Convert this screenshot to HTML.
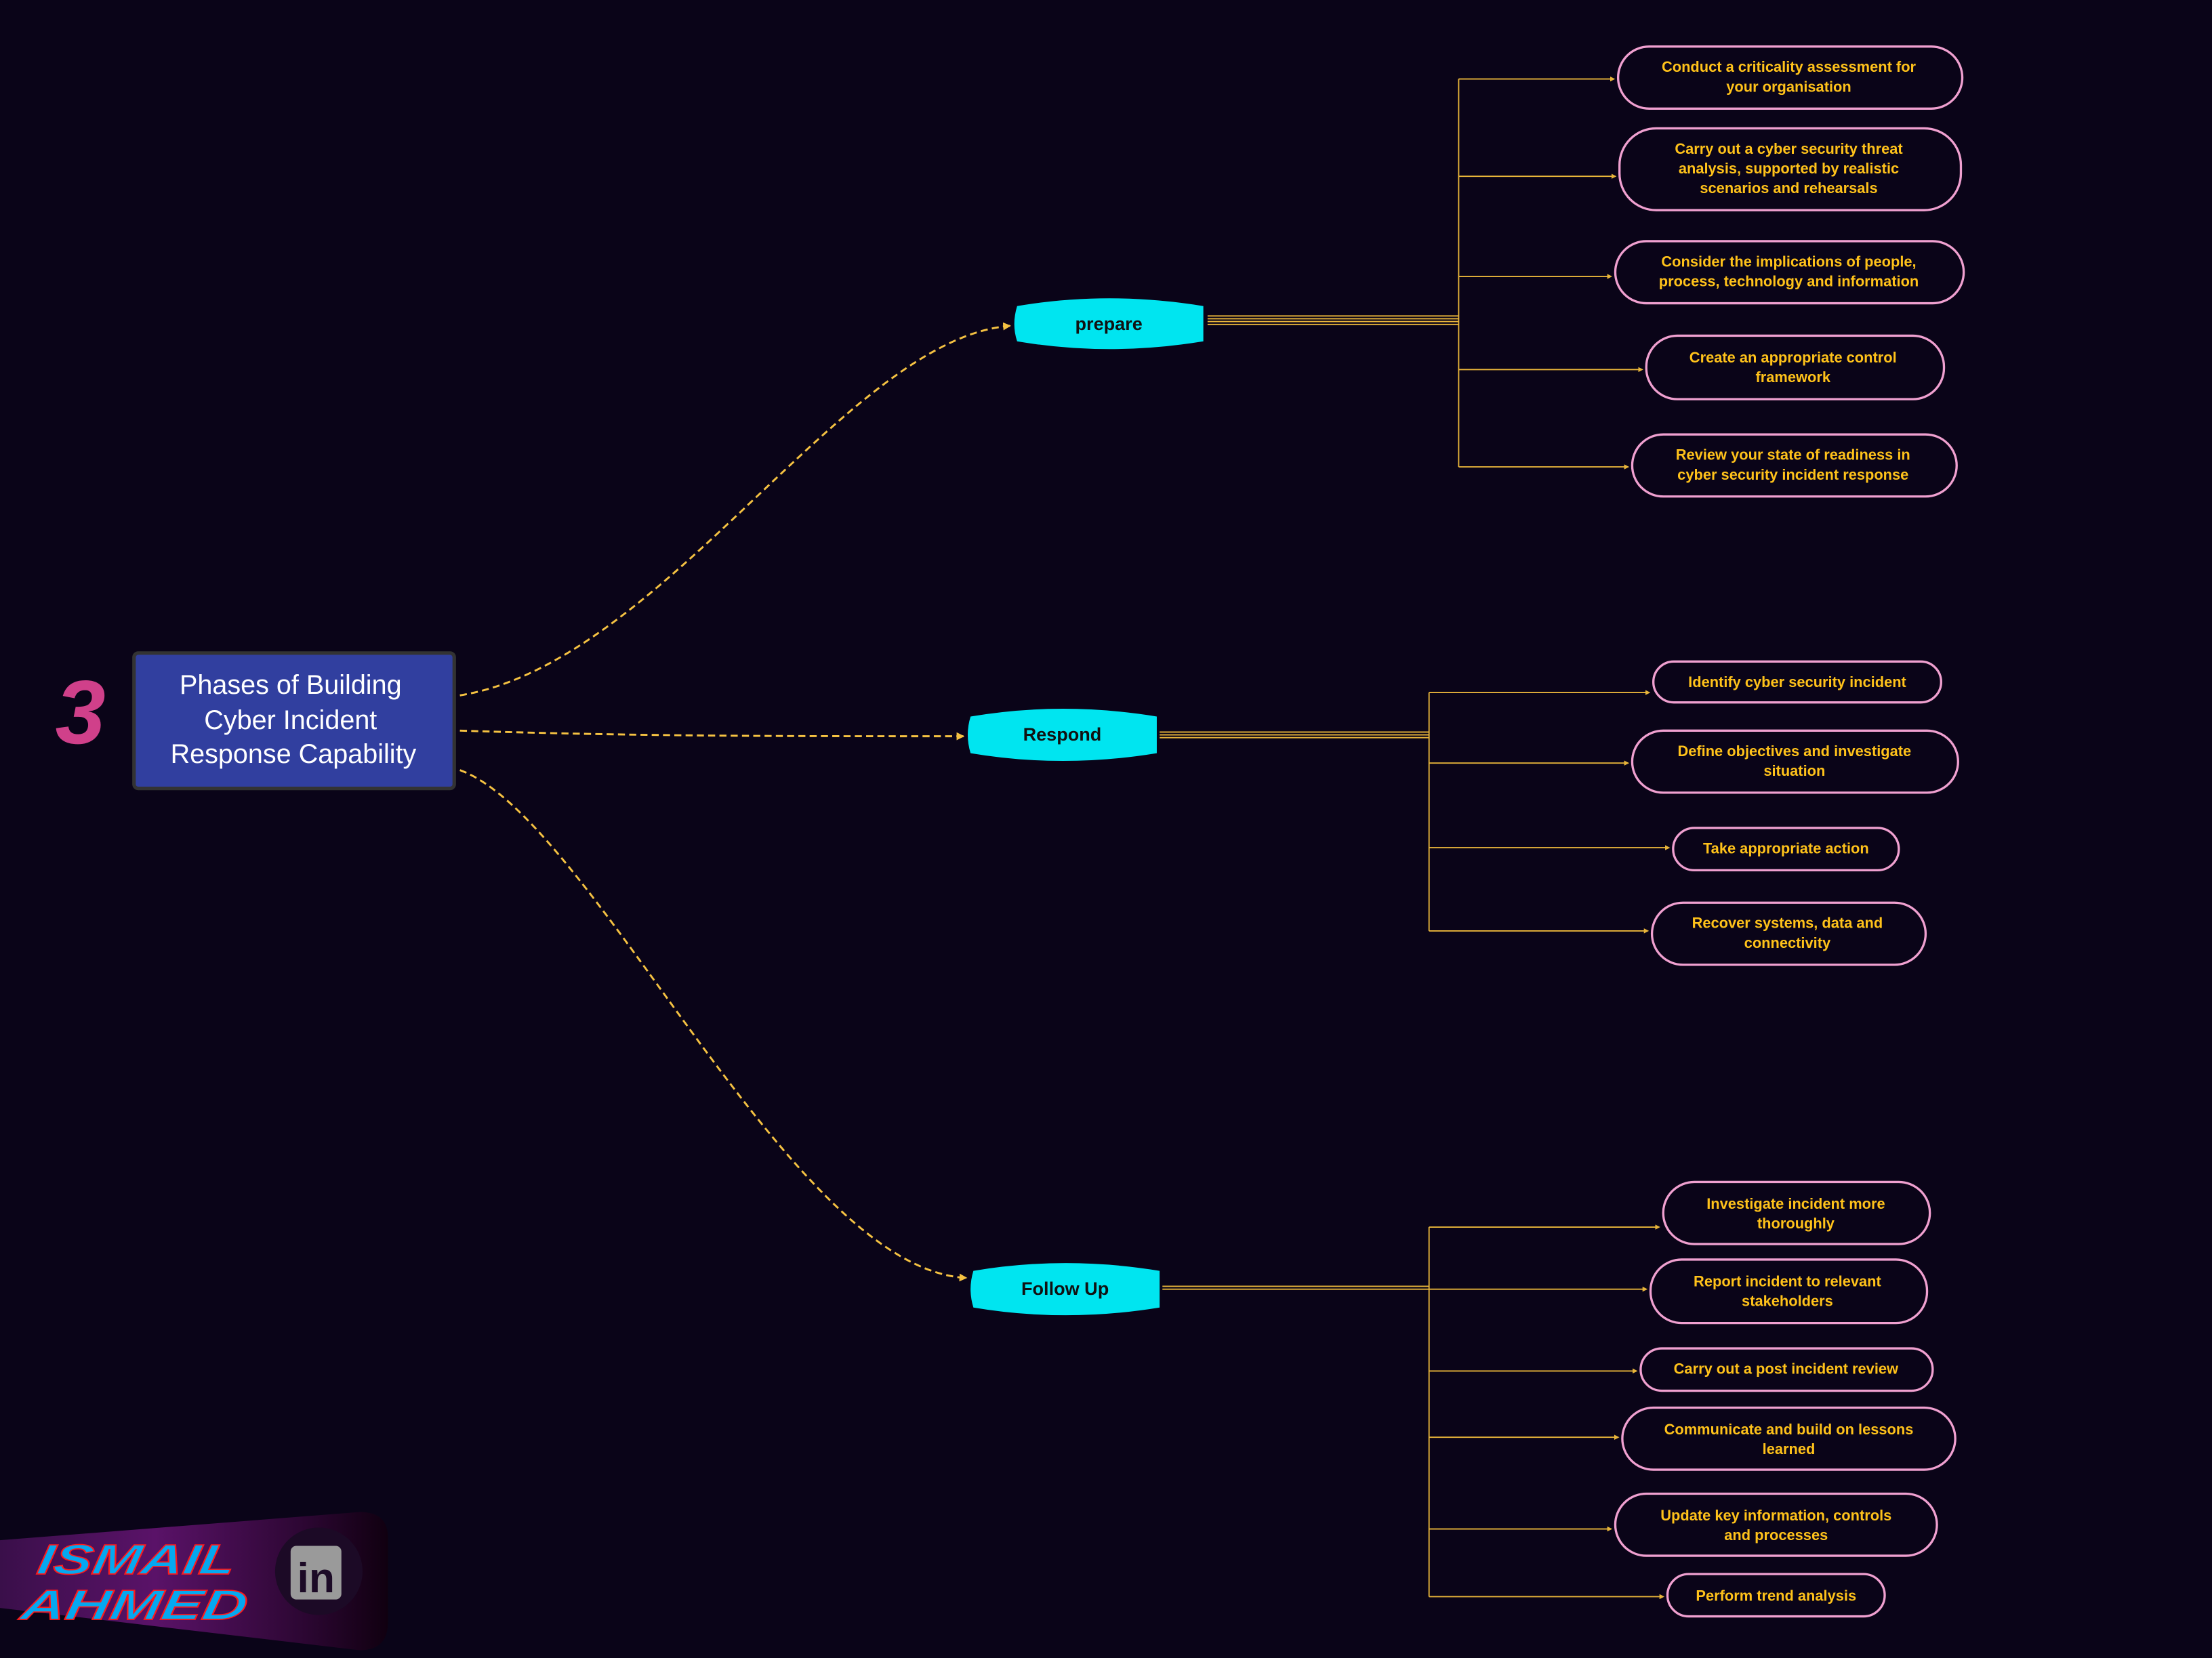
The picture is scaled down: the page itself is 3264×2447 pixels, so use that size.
<!DOCTYPE html>
<html><head><meta charset="utf-8"><style>
html,body{margin:0;padding:0;background:#0a0418;}
svg{display:block}
</style></head><body>
<svg width="3264" height="2447" viewBox="0 0 1568 1175.5" preserveAspectRatio="none" xmlns="http://www.w3.org/2000/svg">
<defs>
<marker id="a" markerWidth="4" markerHeight="4" refX="3.5" refY="2" orient="auto"><path d="M0,0 L4,2 L0,4z" fill="#f5c242"/></marker>
<marker id="s" markerWidth="4" markerHeight="4" refX="3" refY="2" orient="auto"><path d="M0,0 L4,2 L0,4z" fill="#e8b53a"/></marker>
<linearGradient id="g" x1="0" x2="1"><stop offset="0" stop-color="#3a0f4a"/><stop offset="0.4" stop-color="#5a1268"/><stop offset="0.8" stop-color="#2a0630"/><stop offset="1" stop-color="#100010"/></linearGradient>
</defs>
<rect width="1568" height="1176" fill="#0a0418"/>
<g fill="none" stroke="#f5c242" stroke-width="1.4" stroke-dasharray="5,3">
<path d="M326,493 C470,470 600,240 716,231" marker-end="url(#a)"/>
<path d="M326,518 C450,522 560,522 683,522" marker-end="url(#a)"/>
<path d="M326,546 C420,580 560,900 685,906" marker-end="url(#a)"/>
</g>
<text x="57" y="527" font-family="Liberation Sans,sans-serif" font-size="64" font-weight="bold" font-style="italic" fill="#d0408a" text-anchor="middle">3</text>
<rect x="95" y="463" width="227" height="96" rx="3" fill="#313f9f" stroke="#333" stroke-width="2.5"/>
<g font-family="Liberation Sans,sans-serif" font-size="19" fill="#fff" text-anchor="middle">
<text x="206" y="492">Phases of Building</text>
<text x="206" y="517">Cyber Incident</text>
<text x="208" y="541">Response Capability</text>
</g>
<g fill="#00e5f0">
<path d="M721,217 Q786,206 853,217 L853,242 Q786,253 721,242 Q717,230 721,217z"/>
<path d="M688,508 Q753,497 820,508 L820,534 Q753,545 688,534 Q684,521 688,508z"/>
<path d="M690,901 Q755,890 822,901 L822,927 Q755,938 690,927 Q686,914 690,901z"/>
</g>
<g font-family="Liberation Sans,sans-serif" font-size="13" font-weight="bold" fill="#111" text-anchor="middle">
<text x="786" y="234">prepare</text>
<text x="753" y="525">Respond</text>
<text x="755" y="918">Follow Up</text>
</g>
<g stroke="#e8b53a" stroke-width="0.9" fill="none">
<path d="M856,224 H1034 M856,226 H1034 M856,228 H1034 M856,230 H1034"/>
<path d="M1034,56 V331"/>
<path d="M1034,56 H1144" marker-end="url(#s)"/><path d="M1034,125 H1145" marker-end="url(#s)"/><path d="M1034,196 H1142" marker-end="url(#s)"/><path d="M1034,262 H1164" marker-end="url(#s)"/><path d="M1034,331 H1154" marker-end="url(#s)"/>
<path d="M822,519 H1013 M822,521 H1013 M822,523 H1013"/>
<path d="M1013,491 V660"/>
<path d="M1013,491 H1169" marker-end="url(#s)"/><path d="M1013,541 H1154" marker-end="url(#s)"/><path d="M1013,601 H1183" marker-end="url(#s)"/><path d="M1013,660 H1168" marker-end="url(#s)"/>
<path d="M824,912 H1013 M824,914 H1013"/>
<path d="M1013,870 V1132"/>
<path d="M1013,870 H1176" marker-end="url(#s)"/><path d="M1013,914 H1167" marker-end="url(#s)"/><path d="M1013,972 H1160" marker-end="url(#s)"/><path d="M1013,1019 H1147" marker-end="url(#s)"/><path d="M1013,1084 H1142" marker-end="url(#s)"/><path d="M1013,1132 H1179" marker-end="url(#s)"/>
</g>
<g fill="#0a0418" stroke="#f0a0d0" stroke-width="1.6">
<rect x="1147" y="33" width="244" height="44" rx="22"/>
<rect x="1148" y="91" width="242" height="58" rx="26"/>
<rect x="1145" y="171" width="247" height="44" rx="22"/>
<rect x="1167" y="238" width="211" height="45" rx="22"/>
<rect x="1157" y="308" width="230" height="44" rx="22"/>
<rect x="1172" y="469" width="204" height="29" rx="14.5"/>
<rect x="1157" y="518" width="231" height="44" rx="22"/>
<rect x="1186" y="587" width="160" height="30" rx="15"/>
<rect x="1171" y="640" width="194" height="44" rx="22"/>
<rect x="1179" y="838" width="189" height="44" rx="22"/>
<rect x="1170" y="893" width="196" height="45" rx="22"/>
<rect x="1163" y="956" width="207" height="30" rx="15"/>
<rect x="1150" y="998" width="236" height="44" rx="22"/>
<rect x="1145" y="1059" width="228" height="44" rx="22"/>
<rect x="1182" y="1116" width="154" height="30" rx="15"/>
</g>
<g font-family="Liberation Sans,sans-serif" font-size="10.5" font-weight="bold" fill="#ffc21a" text-anchor="middle">
<text x="1268" y="51">Conduct a criticality assessment for</text><text x="1268" y="65">your organisation</text>
<text x="1268" y="109">Carry out a cyber security threat</text><text x="1268" y="123">analysis, supported by realistic</text><text x="1268" y="137">scenarios and rehearsals</text>
<text x="1268" y="189">Consider the implications of people,</text><text x="1268" y="203">process, technology and information</text>
<text x="1271" y="257">Create an appropriate control</text><text x="1271" y="271">framework</text>
<text x="1271" y="326">Review your state of readiness in</text><text x="1271" y="340">cyber security incident response</text>
<text x="1274" y="487">Identify cyber security incident</text>
<text x="1272" y="536">Define objectives and investigate</text><text x="1272" y="550">situation</text>
<text x="1266" y="605">Take appropriate action</text>
<text x="1267" y="658">Recover systems, data and</text><text x="1267" y="672">connectivity</text>
<text x="1273" y="857">Investigate incident more</text><text x="1273" y="871">thoroughly</text>
<text x="1267" y="912">Report incident to relevant</text><text x="1267" y="926">stakeholders</text>
<text x="1266" y="974">Carry out a post incident review</text>
<text x="1268" y="1017">Communicate and build on lessons</text><text x="1268" y="1031">learned</text>
<text x="1259" y="1078">Update key information, controls</text><text x="1259" y="1092">and processes</text>
<text x="1259" y="1135">Perform trend analysis</text>
</g>
<path d="M0,1092 L255,1072 Q275,1072 275,1090 L275,1150 Q275,1170 255,1170 L0,1140z" fill="url(#g)"/>
<g font-family="Liberation Sans,sans-serif" font-size="30" font-weight="bold" font-style="italic" fill="#05a8f0" stroke="#ff1a1a" stroke-width="0.8">
<text x="22" y="1116" transform="skewX(-10)" textLength="140" lengthAdjust="spacingAndGlyphs" dx="200">ISMAIL</text>
<text x="12" y="1148" transform="skewX(-10)" textLength="160" lengthAdjust="spacingAndGlyphs" dx="204">AHMED</text>
</g>
<circle cx="226" cy="1114" r="31" fill="#1c0a26"/>
<rect x="206" y="1096" width="36" height="38" rx="4" fill="#9a9a9a"/>
<text x="224" y="1129" font-family="Liberation Sans,sans-serif" font-size="30" font-weight="bold" fill="#1c0a26" text-anchor="middle">in</text>
</svg>
</body></html>
